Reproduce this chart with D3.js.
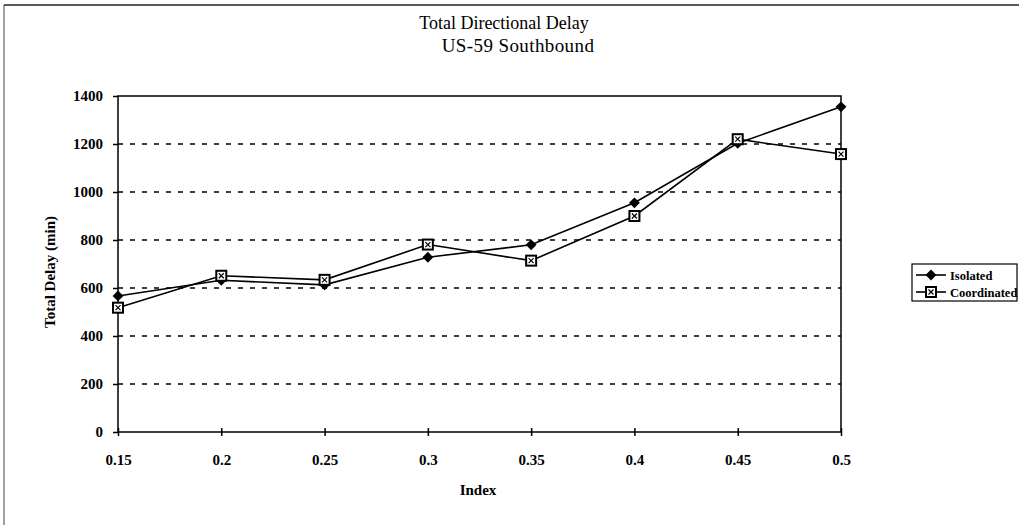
<!DOCTYPE html>
<html>
<head>
<meta charset="utf-8">
<script src="https://cdn.jsdelivr.net/npm/d3@7"></script>
<style>
    body { margin: 0; background: #fff; }
    svg text { font-family: "Liberation Serif", "DejaVu Serif", serif; fill: #000; }
    .tick text { font-weight: bold; font-size: 15px; }
</style>
</head>
<body>
<svg id="chart" width="1019" height="525"></svg>
<script>
//  values
const indexValues = [0.15, 0.2, 0.25, 0.3, 0.35, 0.4, 0.45, 0.5];
const isolatedDelay = [567, 632, 613, 728, 780, 955, 1203, 1355];
const coordinatedDelay = [518, 651, 634, 781, 714, 900, 1220, 1158];
const yTicks = [0, 200, 400, 600, 800, 1000, 1200, 1400];
const seriesNames = ["Isolated", "Coordinated"];

const svg = d3.select("#chart");

//  plot area
const plot = { left: 118, right: 841, top: 96, bottom: 432 };

const x = d3.scalePoint().domain(indexValues).range([plot.left, plot.right]);
const y = d3.scaleLinear().domain([0, 1400]).range([plot.bottom, plot.top]);

//  outer frame of the page (only top and left survive in the scan)
svg.append("line").attr("x1", 4).attr("x2", 1019).attr("y1", 5).attr("y2", 5)
    .attr("stroke", "#222").attr("stroke-width", 1.5);
svg.append("line").attr("x1", 4).attr("x2", 4).attr("y1", 5).attr("y2", 525)
    .attr("stroke", "#444").attr("stroke-width", 1);

//  titles
svg.append("text").attr("x", 504).attr("y", 29).attr("text-anchor", "middle")
    .style("font-size", "18px").text("Total Directional Delay");
svg.append("text").attr("x", 518).attr("y", 52).attr("text-anchor", "middle")
    .style("font-size", "19px").style("letter-spacing", "0.4px").text("US-59 Southbound");

//  dashed gridlines
svg.append("g").selectAll("line")
    .data(yTicks.filter(d => d > 0 && d < 1400))
    .join("line")
    .attr("x1", plot.left).attr("x2", plot.right)
    .attr("y1", d => y(d)).attr("y2", d => y(d))
    .attr("stroke", "#000").attr("stroke-width", 1.5)
    .attr("stroke-dasharray", "5,7");

//  plot frame
svg.append("rect").attr("x", plot.left).attr("y", plot.top)
    .attr("width", plot.right - plot.left).attr("height", plot.bottom - plot.top)
    .attr("fill", "none").attr("stroke", "#000").attr("stroke-width", 1.5);

//  axes
const yAxis = svg.append("g").attr("transform", `translate(${plot.left},0)`)
    .call(d3.axisLeft(y).tickValues(yTicks).tickSize(5).tickPadding(10).tickFormat(d3.format("d")));
yAxis.select(".domain").remove();
yAxis.selectAll(".tick line").attr("stroke-width", 1.5);

const xAxis = svg.append("g").attr("transform", `translate(0,${plot.bottom})`)
    .call(d3.axisBottom(x).tickSize(4).tickPadding(18).tickFormat(d => String(d)));
xAxis.select(".domain").remove();
xAxis.selectAll(".tick line").attr("y1", -4).attr("stroke-width", 1.5);

//  axis titles
svg.append("text").attr("x", 478).attr("y", 495).attr("text-anchor", "middle")
    .style("font-size", "15px").style("font-weight", "bold").text("Index");
svg.append("text").attr("transform", "translate(55,272) rotate(-90)")
    .attr("text-anchor", "middle")
    .style("font-size", "15px").style("font-weight", "bold").text("Total Delay (min)");

//  series lines
const line = d3.line().x((d, i) => x(indexValues[i])).y(d => y(d));
[isolatedDelay, coordinatedDelay].forEach(vals => {
    svg.append("path").datum(vals).attr("d", line)
        .attr("fill", "none").attr("stroke", "#000").attr("stroke-width", 1.6);
});

//  markers
const diamond = d3.symbol().type(d3.symbolDiamond2).size(75);
function drawDiamond(g, cx, cy) {
    g.append("path").attr("d", diamond()).attr("transform", `translate(${cx},${cy})`)
        .attr("fill", "#000");
}
function drawSquare(g, cx, cy) {
    const s = g.append("g").attr("transform", `translate(${cx},${cy})`);
    s.append("rect").attr("x", -5).attr("y", -5).attr("width", 10).attr("height", 10)
        .attr("fill", "#fff").attr("stroke", "#000").attr("stroke-width", 2);
    s.append("path").attr("d", "M-2.5,-2.5L2.5,2.5M2.5,-2.5L-2.5,2.5")
        .attr("stroke", "#000").attr("stroke-width", 1.2);
}

const marks = svg.append("g");
isolatedDelay.forEach((v, i) => drawDiamond(marks, x(indexValues[i]), y(v)));
coordinatedDelay.forEach((v, i) => drawSquare(marks, x(indexValues[i]), y(v)));

//  legend
const legend = svg.append("g").attr("transform", "translate(912,264)");
legend.append("rect").attr("x", 0).attr("y", 0).attr("width", 105).attr("height", 37)
    .attr("fill", "#fff").attr("stroke", "#000").attr("stroke-width", 1.2);
seriesNames.forEach((name, i) => {
    const ly = 11 + i * 17;
    legend.append("line").attr("x1", 4).attr("x2", 34).attr("y1", ly).attr("y2", ly)
        .attr("stroke", "#000").attr("stroke-width", 1.6);
    if (i === 0) drawDiamond(legend, 19, ly);
    else drawSquare(legend, 19, ly);
    legend.append("text").attr("x", 38).attr("y", ly + 4.5)
        .style("font-size", "12.5px").style("font-weight", "bold").text(name);
});
</script>
</body>
</html>
